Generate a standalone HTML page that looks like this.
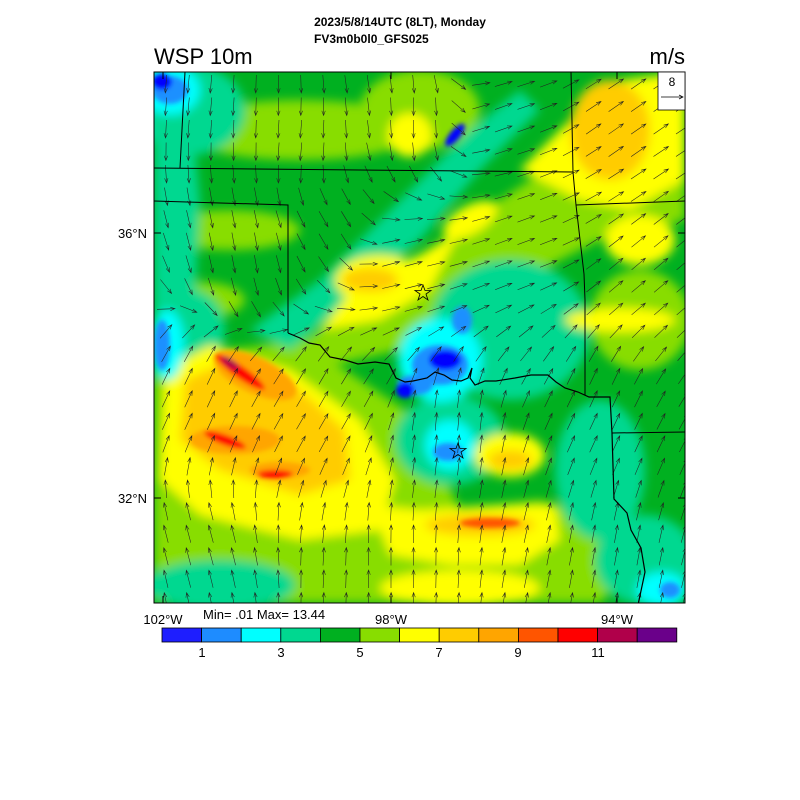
<!DOCTYPE html>
<html><head><meta charset="utf-8"><style>
html,body{margin:0;padding:0;background:#fff;width:800px;height:800px;overflow:hidden}
svg{display:block;font-family:"Liberation Sans",sans-serif}
</style></head><body>
<svg id="s" width="800" height="800" viewBox="0 0 800 800">
<defs>
<filter id="b" x="-20%" y="-20%" width="140%" height="140%"><feGaussianBlur stdDeviation="5"/></filter>
<filter id="b2" x="-20%" y="-20%" width="140%" height="140%"><feGaussianBlur stdDeviation="2.5"/></filter>
<clipPath id="c"><rect x="154" y="72" width="531" height="531"/></clipPath>
</defs>
<text x="400" y="26" font-size="12" font-weight="bold" text-anchor="middle">2023/5/8/14UTC (8LT), Monday</text>
<text x="314" y="43" font-size="12" font-weight="bold">FV3m0b0l0_GFS025</text>
<text x="154" y="64" font-size="22">WSP 10m</text>
<text x="685" y="64" font-size="22" text-anchor="end">m/s</text>
<g clip-path="url(#c)">
<rect x="154" y="72" width="531" height="531" fill="#00b020"/>
<g filter="url(#b)">
<ellipse cx="300" cy="130" rx="120" ry="30" fill="#88dd00"/>
<ellipse cx="420" cy="110" rx="60" ry="40" fill="#88dd00"/>
<ellipse cx="230" cy="230" rx="70" ry="20" fill="#88dd00"/>
<ellipse cx="200" cy="300" rx="45" ry="18" fill="#88dd00"/>
<polygon points="290,350 380,290 470,220 560,160 600,100 685,72 685,220 600,240 540,270 470,310 400,350 310,370" fill="#88dd00"/>
<polygon points="154,360 300,340 420,420 460,510 540,500 600,520 640,560 600,603 154,603" fill="#88dd00"/>
<ellipse cx="640" cy="320" rx="50" ry="50" fill="#88dd00"/>
<ellipse cx="190" cy="110" rx="55" ry="45" fill="#00d890"/>
<polygon points="154,90 190,100 200,200 195,300 170,360 154,380" fill="#00d890"/>
<polygon points="250,330 320,280 400,200 470,130 520,90 540,110 480,170 420,240 350,300 290,350" fill="#00d890"/>
<ellipse cx="510" cy="330" rx="80" ry="70" fill="#00d890"/>
<ellipse cx="450" cy="440" rx="55" ry="45" fill="#00d890"/>
<ellipse cx="600" cy="470" rx="45" ry="70" fill="#00d890"/>
<ellipse cx="645" cy="560" rx="50" ry="45" fill="#00d890"/>
<ellipse cx="220" cy="585" rx="75" ry="25" fill="#00d890"/>
<ellipse cx="190" cy="330" rx="35" ry="40" fill="#00d890"/>
<ellipse cx="410" cy="135" rx="22" ry="22" fill="#ffff00"/>
<polygon points="320,330 360,280 420,255 460,230 430,290 380,320" fill="#ffff00"/>
<polygon points="520,170 580,110 620,80 685,72 685,180 630,210 580,200" fill="#ffff00"/>
<ellipse cx="380" cy="280" rx="45" ry="25" fill="#ffff00"/>
<ellipse cx="470" cy="220" rx="30" ry="14" fill="#ffff00" transform="rotate(-30 470 220)"/>
<polygon points="165,370 210,345 290,370 360,420 395,480 380,530 300,540 200,515 160,480" fill="#ffff00"/>
<polygon points="370,505 420,510 500,505 555,505 560,540 520,565 450,565 390,555" fill="#ffff00"/>
<ellipse cx="460" cy="588" rx="80" ry="18" fill="#ffff00"/>
<ellipse cx="510" cy="455" rx="35" ry="22" fill="#ffff00"/>
<ellipse cx="620" cy="320" rx="55" ry="12" fill="#ffff00"/>
<ellipse cx="640" cy="240" rx="35" ry="25" fill="#ffff00"/>
<ellipse cx="610" cy="130" rx="40" ry="50" fill="#ffcc00"/>
<ellipse cx="370" cy="280" rx="28" ry="12" fill="#ffcc00"/>
<polygon points="185,380 230,360 300,390 345,430 350,480 300,495 220,470 180,440" fill="#ffcc00"/>
<ellipse cx="480" cy="525" rx="55" ry="11" fill="#ffcc00"/>
<ellipse cx="510" cy="460" rx="22" ry="10" fill="#ffcc00"/>
<ellipse cx="170" cy="90" rx="30" ry="25" fill="#00ffff"/>
<ellipse cx="440" cy="360" rx="42" ry="42" fill="#00ffff"/>
<ellipse cx="450" cy="445" rx="25" ry="25" fill="#00ffff"/>
<ellipse cx="662" cy="590" rx="25" ry="18" fill="#00ffff"/>
<ellipse cx="168" cy="345" rx="16" ry="35" fill="#00ffff"/>
</g>
<g filter="url(#b2)">
<ellipse cx="255" cy="375" rx="45" ry="18" fill="#ffa500" transform="rotate(25 255 375)"/>
<ellipse cx="235" cy="440" rx="45" ry="14" fill="#ffa500"/>
<ellipse cx="280" cy="470" rx="30" ry="8" fill="#ffa500"/>
<ellipse cx="240" cy="372" rx="30" ry="6" fill="#ff0000" transform="rotate(35 240 372)"/>
<ellipse cx="225" cy="440" rx="22" ry="5" fill="#ff0000" transform="rotate(20 225 440)"/>
<ellipse cx="275" cy="474" rx="18" ry="4" fill="#ff0000"/>
<ellipse cx="230" cy="363" rx="10" ry="4" fill="#b0004a" transform="rotate(35 230 363)"/>
<ellipse cx="490" cy="523" rx="30" ry="5" fill="#ff5500"/>
<ellipse cx="440" cy="365" rx="28" ry="20" fill="#1e90ff"/>
<ellipse cx="415" cy="385" rx="18" ry="10" fill="#1e90ff"/>
<ellipse cx="445" cy="360" rx="16" ry="10" fill="#0000ff"/>
<ellipse cx="405" cy="390" rx="9" ry="8" fill="#0000ff"/>
<ellipse cx="462" cy="320" rx="10" ry="14" fill="#1e90ff"/>
<ellipse cx="448" cy="452" rx="15" ry="9" fill="#1e90ff"/>
<ellipse cx="455" cy="135" rx="14" ry="5" fill="#0000ff" transform="rotate(-50 455 135)"/>
<ellipse cx="170" cy="90" rx="18" ry="14" fill="#1e90ff"/>
<ellipse cx="162" cy="82" rx="10" ry="8" fill="#0000ff"/>
<ellipse cx="162" cy="345" rx="8" ry="25" fill="#1e90ff"/>
<ellipse cx="670" cy="590" rx="10" ry="8" fill="#1e90ff"/>
</g>
<g id="arr" stroke="#222" stroke-width="0.55" fill="none"></g>
<g stroke="#000" fill="none" stroke-width="1">
<polyline points="154,168 573,172"/>
<polyline points="154,201 288,205 288,333"/>
<polyline points="185,72 180,168"/>
<polyline points="571,72 573,172 576,205 584,274 585,300 585,395"/>
<polyline points="576,205 686,201"/>
<polyline points="612,433 686,432"/>
<polyline points="288,333 300,338 309,343 320,345 330,357 345,360 358,364 375,362 389,364 396,378 405,382 413,381 427,378 435,372 444,375 452,380 461,381 468,378 472,368 470,378 475,385 485,381 496,381 515,378 531,375 548,375 556,382 565,388 578,392 589,397 610,397 612,433 614,499 627,513 631,530 641,548 645,572 638,605" stroke-width="1.2"/>
<path d="M423,285 l2,5.5 6,0 -5,3.5 2,6 -5,-3.5 -5,3.5 2,-6 -5,-3.5 6,0z" stroke-width="0.8"/>
<path d="M458,443 l2,5.5 6,0 -5,3.5 2,6 -5,-3.5 -5,3.5 2,-6 -5,-3.5 6,0z" stroke-width="0.8"/>
</g>
</g>
<rect x="154" y="72" width="531" height="531" fill="none" stroke="#000" stroke-width="1"/>
<rect x="658" y="72" width="27" height="38" fill="#fff" stroke="#000" stroke-width="0.8"/>
<text x="672" y="86" font-size="12" text-anchor="middle">8</text>
<line x1="661" y1="97" x2="683" y2="97" stroke="#000" stroke-width="0.7"/>
<path d="M679,95 L683,97 L679,99" stroke="#000" stroke-width="0.7" fill="none"/>
<g stroke="#000" stroke-width="1">
<line x1="154" y1="233" x2="161" y2="233"/><line x1="154" y1="498" x2="161" y2="498"/>
<line x1="678" y1="233" x2="685" y2="233"/><line x1="678" y1="498" x2="685" y2="498"/>
<line x1="163" y1="596" x2="163" y2="603"/><line x1="391" y1="596" x2="391" y2="603"/><line x1="617" y1="596" x2="617" y2="603"/>
<line x1="163" y1="72" x2="163" y2="79"/><line x1="391" y1="72" x2="391" y2="79"/><line x1="617" y1="72" x2="617" y2="79"/>
</g>
<g font-size="13">
<text x="147" y="238" text-anchor="end">36°N</text>
<text x="147" y="503" text-anchor="end">32°N</text>
<text x="163" y="624" text-anchor="middle">102°W</text>
<text x="391" y="624" text-anchor="middle">98°W</text>
<text x="617" y="624" text-anchor="middle">94°W</text>
<text x="203" y="619">Min= .01 Max= 13.44</text>
</g>
<g id="cb" stroke="#000" stroke-width="0.8"></g>
<g font-size="13" text-anchor="middle">
<text x="202" y="657">1</text><text x="281" y="657">3</text><text x="360" y="657">5</text>
<text x="439" y="657">7</text><text x="518" y="657">9</text><text x="598" y="657">11</text>
</g>
</svg>
<script>
var cols=["#1e1eff","#1e8cff","#00ffff","#00d890","#00b020","#88dd00","#ffff00","#ffcc00","#ffa500","#ff5500","#ff0000","#b0004a","#6a008a"];
var cb=document.getElementById("cb"),ns="http://www.w3.org/2000/svg";
for(var i=0;i<13;i++){var r=document.createElementNS(ns,"rect");r.setAttribute("x",162+i*39.6);r.setAttribute("y",628);r.setAttribute("width",39.6);r.setAttribute("height",14);r.setAttribute("fill",cols[i]);cb.appendChild(r);}
var A=[[200,100,95],[300,150,95],[420,120,90],[500,120,-20],[620,120,-35],[250,250,80],[330,230,60],[400,260,-15],[520,250,-20],[640,280,-40],[200,400,-65],[320,400,-60],[450,430,-85],[600,400,-65],[200,540,-105],[400,560,-90],[600,560,-80]];
var g=document.getElementById("arr"),d="";
for(var y=84;y<603;y+=22.5)for(var x=166;x<685;x+=22.5){
var sx=0,sy=0;for(var k=0;k<A.length;k++){var dx=x-A[k][0],dy=y-A[k][1],w=1/Math.pow(dx*dx+dy*dy+100,1.5),a=A[k][2]*Math.PI/180;sx+=w*Math.cos(a);sy+=w*Math.sin(a);}
var an=Math.atan2(sy,sx),L=18;var c=Math.cos(an),s=Math.sin(an);
var x0=x-c*L/2,y0=y-s*L/2,x1=x+c*L/2,y1=y+s*L/2;
d+="M"+x0.toFixed(1)+","+y0.toFixed(1)+"L"+x1.toFixed(1)+","+y1.toFixed(1);
var h=5,ha=0.35;
d+="M"+(x1-h*Math.cos(an-ha)).toFixed(1)+","+(y1-h*Math.sin(an-ha)).toFixed(1)+"L"+x1.toFixed(1)+","+y1.toFixed(1)+"L"+(x1-h*Math.cos(an+ha)).toFixed(1)+","+(y1-h*Math.sin(an+ha)).toFixed(1);}
var p=document.createElementNS(ns,"path");p.setAttribute("d",d);g.appendChild(p);
</script>
</body></html>
